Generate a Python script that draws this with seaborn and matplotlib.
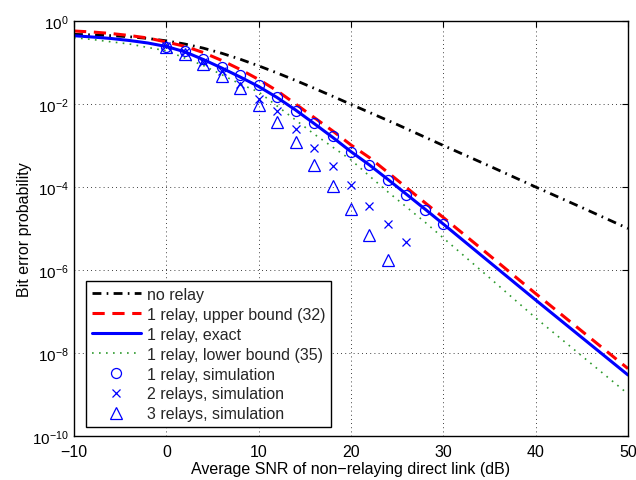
import numpy as np
import pandas as pd
import matplotlib
matplotlib.use("Agg")
import matplotlib.pyplot as plt
import seaborn as sns
from matplotlib.lines import Line2D
from matplotlib.ticker import FixedLocator, NullLocator

# ---------------- data ----------------
snr_norelay = [-10, -8, -6, -4, -2, 0, 2, 4, 6, 8, 10, 12, 14, 16, 18, 20,
               25, 30, 35, 40, 45, 50]
ber_norelay = [0.476, 0.463, 0.444, 0.417, 0.380, 0.333, 0.279, 0.222, 0.167,
               0.120, 0.083, 0.056, 0.037, 0.024, 0.0154, 0.0098,
               3.2e-3, 1.0e-3, 3.2e-4, 1.0e-4, 3.2e-5, 1.0e-5]

snr_theory = [-10, -8, -6, -4, -2, 0, 2, 4, 6, 8, 10, 12, 14, 16, 18, 20,
              22, 24, 26, 28, 30, 35, 40, 50]
ber_upper = [0.574, 0.543, 0.500, 0.447, 0.389, 0.312, 0.246, 0.174, 0.112,
             0.068, 0.039, 0.0208, 0.0100, 4.73e-3, 2.26e-3, 1.03e-3,
             5.1e-4, 2.24e-4, 9.7e-5, 4.2e-5, 1.84e-5, 2.25e-6, 2.7e-7, 4.2e-9]
ber_exact = [0.442, 0.411, 0.379, 0.339, 0.295, 0.243, 0.181, 0.118, 0.0737,
             0.0447, 0.0264, 0.0143, 7.16e-3, 3.39e-3, 1.58e-3, 7.1e-4,
             3.39e-4, 1.52e-4, 6.7e-5, 2.95e-5, 1.28e-5, 1.55e-6, 1.89e-7, 2.95e-9]
ber_lower = [0.396, 0.358, 0.315, 0.279, 0.230, 0.192, 0.128, 0.085, 0.051,
             0.0303, 0.0195, 8.95e-3, 4.11e-3, 1.89e-3, 9.2e-4, 4.5e-4,
             1.84e-4, 7.6e-5, 3.3e-5, 1.43e-5, 5.9e-6, 6.5e-7, 7.0e-8, 1.03e-9]

snr_sim1 = [0, 2, 4, 6, 8, 10, 12, 14, 16, 18, 20, 22, 24, 26, 28, 30]
ber_sim1 = [0.240, 0.186, 0.121, 0.0792, 0.050, 0.0287, 0.0150, 6.78e-3,
            3.43e-3, 1.74e-3, 6.97e-4, 3.48e-4, 1.47e-4, 6.5e-5, 2.79e-5, 1.28e-5]

snr_sim2 = [0, 2, 4, 6, 8, 10, 12, 14, 16, 18, 20, 22, 24, 26]
ber_sim2 = [0.250, 0.179, 0.103, 0.0624, 0.0303, 0.0132, 6.90e-3, 2.50e-3,
            8.7e-4, 3.12e-4, 1.12e-4, 3.43e-5, 1.28e-5, 4.65e-6]

snr_sim3 = [0, 2, 4, 6, 8, 10, 12, 14, 16, 18, 20, 22, 24]
ber_sim3 = [0.236, 0.160, 0.092, 0.0486, 0.0243, 9.46e-3, 3.62e-3, 1.19e-3,
            3.39e-4, 1.06e-4, 2.95e-5, 6.97e-6, 1.77e-6]

x_ticks = [-10, 0, 10, 20, 30, 40, 50]
y_ticks = [1e-10, 1e-8, 1e-6, 1e-4, 1e-2, 1e0]

labels = ["no relay", "1 relay, upper bound (32)", "1 relay, exact",
          "1 relay, lower bound (35)", "1 relay, simulation",
          "2 relays, simulation", "3 relays, simulation"]

# ---------------- style ----------------
sns.set_theme(style="white")
FONT = ["Liberation Sans", "DejaVu Sans"]
plt.rcParams["font.family"] = FONT
plt.rcParams["mathtext.fontset"] = "custom"
plt.rcParams["mathtext.rm"] = "Liberation Sans"
plt.rcParams["mathtext.it"] = "Liberation Sans:italic"
plt.rcParams["mathtext.bf"] = "Liberation Sans:bold"
plt.rcParams["axes.unicode_minus"] = True
FS = 11.5

fig = plt.figure(figsize=(6.36, 4.81), dpi=100)
ax = fig.add_axes([74 / 636, 1 - 437 / 481, 554 / 636, 415 / 481])

BLACK, RED, BLUE, GREEN = "#000000", "#ff0000", "#0000ff", "#2e9a2e"
LS_BLACK = (0, (3.2, 1.9, 0.6, 1.9))
LS_RED = (0, (4.0, 2.5))
LS_GREEN = (0, (1.0, 3.2))

df_nr = pd.DataFrame({"snr": snr_norelay, "ber": ber_norelay})
df_th = pd.DataFrame({"snr": snr_theory, "up": ber_upper, "ex": ber_exact, "lo": ber_lower})

sns.lineplot(data=df_nr, x="snr", y="ber", ax=ax, color=BLACK, lw=2.0,
             linestyle=LS_BLACK, errorbar=None, sort=False)
sns.lineplot(data=df_th, x="snr", y="up", ax=ax, color=RED, lw=2.2,
             linestyle=LS_RED, errorbar=None, sort=False)
sns.lineplot(data=df_th, x="snr", y="ex", ax=ax, color=BLUE, lw=2.2,
             linestyle="-", errorbar=None, sort=False)
sns.lineplot(data=df_th, x="snr", y="lo", ax=ax, color=GREEN, lw=1.2,
             linestyle=LS_GREEN, errorbar=None, sort=False)

sns.lineplot(x=snr_sim1, y=ber_sim1, ax=ax, color=BLUE, linestyle="", marker="o",
             markersize=7.2, markerfacecolor="none", markeredgecolor=BLUE,
             markeredgewidth=0.9, errorbar=None, sort=False)
sns.lineplot(x=snr_sim2, y=ber_sim2, ax=ax, color=BLUE, linestyle="", marker="x",
             markersize=6.0, markeredgecolor=BLUE, markeredgewidth=0.9,
             errorbar=None, sort=False)
sns.lineplot(x=snr_sim3, y=ber_sim3, ax=ax, color=BLUE, linestyle="", marker="^",
             markersize=8.0, markerfacecolor="none", markeredgecolor=BLUE,
             markeredgewidth=0.9, errorbar=None, sort=False)

ax.set_yscale("log")
ax.set_xlim(-10, 50)
ax.set_ylim(1e-10, 1)
ax.xaxis.set_major_locator(FixedLocator(x_ticks))
ax.yaxis.set_major_locator(FixedLocator(y_ticks))
ax.yaxis.set_minor_locator(NullLocator())
ax.xaxis.set_minor_locator(NullLocator())

ax.grid(True, which="major", color="black", linestyle=(0, (1, 4)), lw=0.6)
ax.tick_params(axis="both", which="major", direction="in", length=4, width=0.8,
               top=True, right=True, labelsize=FS, colors="black")
ax.tick_params(axis="x", pad=6)
ax.tick_params(axis="y", pad=4)
for s in ax.spines.values():
    s.set_visible(True)
    s.set_color("black")
    s.set_linewidth(1.0)

ax.set_xlabel("Average SNR of non\u2212relaying direct link (dB)", fontsize=FS,
              labelpad=1, color="black")
ax.set_ylabel("Bit error probability", fontsize=FS, color="black")
ax.yaxis.set_label_coords(-0.076, 0.5)

fig.canvas.draw()
for lab in ax.get_yticklabels():
    lab.set_verticalalignment("center_baseline")
    lab.set_fontsize(11)

handles = [
    Line2D([], [], color=BLACK, lw=2.0, linestyle=LS_BLACK),
    Line2D([], [], color=RED, lw=2.2, linestyle=LS_RED),
    Line2D([], [], color=BLUE, lw=2.2, linestyle="-"),
    Line2D([], [], color=GREEN, lw=1.2, linestyle=LS_GREEN),
    Line2D([], [], color=BLUE, linestyle="", marker="o", markersize=7.2,
           markerfacecolor="none", markeredgewidth=0.9),
    Line2D([], [], color=BLUE, linestyle="", marker="x", markersize=6.0,
           markeredgewidth=0.9),
    Line2D([], [], color=BLUE, linestyle="", marker="^", markersize=8.0,
           markerfacecolor="none", markeredgewidth=0.9),
]
leg = ax.legend(handles, labels, loc="lower left", bbox_to_anchor=(0.0217, 0.0217),
                borderaxespad=0, fontsize=FS, frameon=True, fancybox=False,
                framealpha=1, edgecolor="black", handlelength=3.1,
                handletextpad=0.35, labelspacing=0.31, borderpad=0.35)
leg.get_frame().set_linewidth(1.0)

fig.savefig("out.png", dpi=100, facecolor="white")
